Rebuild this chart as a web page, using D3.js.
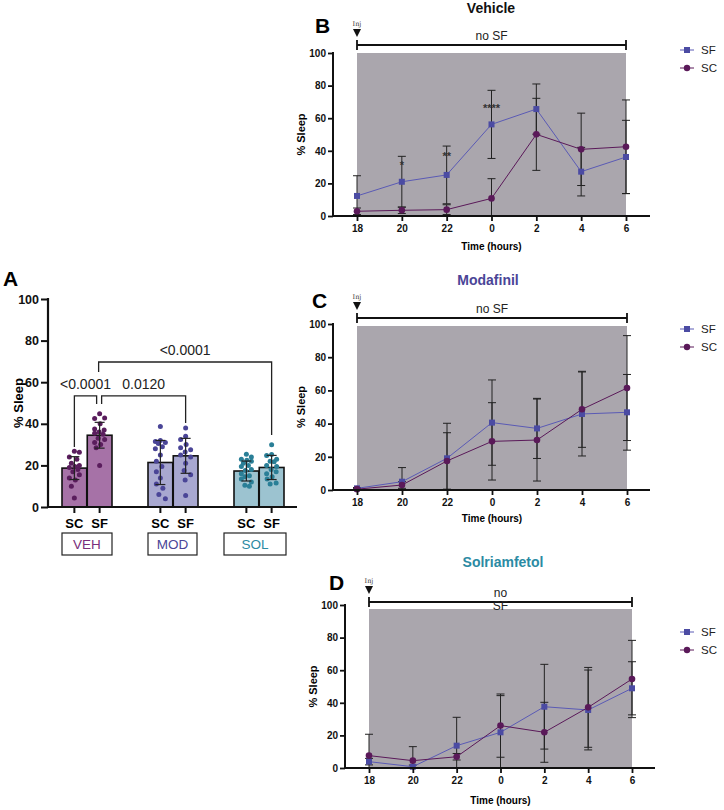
<!DOCTYPE html>
<html>
<head>
<meta charset="utf-8">
<script src="https://cdn.jsdelivr.net/npm/d3@7"></script>
<style>
  body { margin: 0; background: #fff; }
  svg { font-family: Arial, "Liberation Sans", sans-serif; }
</style>
</head>
<body>
<div id="fig"></div>
<script>
// ---------- data: panel A ----------
const groups = ["VEH", "MOD", "SOL"];
const conds = ["SC", "SF"];
const barMean = [18.7, 34.5, 21.4, 24.6, 17.3, 19.0];
const barSD = [5.5, 6.2, 10.6, 8.4, 4.8, 5.8];
const vehSC = [26.8, 26.3, 24, 23, 21, 20, 19.5, 19, 18, 17, 15.5, 14, 13, 10, 4.3];
const vehSF = [44.8, 42.8, 42.5, 40, 37.5, 37, 36, 35.5, 35, 33, 32.5, 31, 30, 28.5, 20];
const modSC = [38.7, 32, 31.5, 31, 30.5, 29, 28, 25, 22, 19.5, 17, 14, 11, 9, 6, 4];
const modSF = [38, 34, 32.5, 30, 28.5, 27.5, 26.5, 25, 24, 21, 17.5, 15.5, 13, 5.5];
const solSC = [25.4, 24, 23, 22.5, 22, 21, 20, 19.5, 18, 17.5, 16, 15, 14.5, 13.5, 12, 10.5, 10];
const solSF = [29.9, 25.2, 24.8, 23, 22, 21.8, 20, 19.5, 18, 17, 16, 14.5, 13.5, 11.5, 11];
const dotsA = [vehSC, vehSF, modSC, modSF, solSC, solSF];
const yTicksA = [0, 20, 40, 60, 80, 100];

// comparisons: [left bar index, right bar index]
const pLabels = ["<0.0001", "0.0120", "<0.0001"];
const pPairs = [[0, 1], [1, 3], [1, 5]];
const pTop = [53.4, 53.4, 69.7];
const pLeftEnd = [28.8, 49.5, 64.9];
const pRightEnd = [49.5, 40.4, 34.6];

// ---------- data: time courses ----------
const hours = ["18", "20", "22", "0", "2", "4", "6"];
const yTicksL = [0, 20, 40, 60, 80, 100];

const vehSFMean = [12.3, 21.0, 25.2, 56.2, 65.6, 27.2, 36.2];
const vehSFSD   = [12.4, 15.6, 17.7, 20.9, 15.4, 14.9, 22.5];
const vehSCMean = [2.9, 3.5, 3.9, 10.8, 50.1, 40.9, 42.5];
const vehSCSD   = [2.0, 2.0, 3.0, 12.1, 22.1, 22.2, 28.7];
const vehStars  = ["", "*", "**", "****", "", "", ""];
const vehStarLevel = [0, 32.5, 38, 67.5, 0, 0, 0];

const modSFMean = [1.0, 5.0, 19.1, 40.6, 37.1, 45.8, 46.8];
const modSFSD   = [0.5, 8.5, 21.1, 25.7, 18.1, 25.3, 22.8];
const modSCMean = [0.5, 3.0, 17.5, 29.3, 30.1, 48.6, 61.4];
const modSCSD   = [0.5, 2.0, 17.0, 23.3, 24.7, 22.9, 31.6];

const solSFMean = [3.9, 0.8, 13.7, 21.9, 37.6, 35.6, 48.9];
const solSFSD   = [2.0, 1.0, 17.4, 22.5, 26.0, 24.5, 16.3];
const solSCMean = [7.6, 4.5, 6.9, 26.0, 21.9, 37.2, 54.6];
const solSCSD   = [13.1, 8.6, 2.0, 19.4, 18.4, 24.5, 23.7];

// ---------- colours ----------
const barFill = ["#a672a7", "#a8a8d0", "#9cc3d0"];
const dotFill = ["#5a1d5d", "#4a4597", "#2a7f97"];
const boxText = ["#7a2d7b", "#4a4597", "#2b8aa3"];
const sfColor = "#4b4ba3", sfLine = "#5a5ab5";
const scColor = "#5a1959";
const shade = "#aaa6ad";

const svg = d3.select("#fig").append("svg")
  .attr("width", 724)
  .attr("height", 810);

// ================= Panel A =================
const gA = svg.append("g");
const yA = d3.scaleLinear().domain([0, 100]).range([507, 299]);
const xGroup = d3.scalePoint().domain(groups).range([87, 259]);
const xCond = d3.scaleBand().domain(conds).range([-25, 25]).paddingInner(0.02);
const barX = i => xGroup(groups[Math.floor(i / 2)]) + xCond(conds[i % 2]);
const barC = i => barX(i) + xCond.bandwidth() / 2;

gA.append("text").attr("x", 3).attr("y", 286)
  .style("font-size", "21px").style("font-weight", "bold").text("A");

gA.selectAll("rect.bar")
  .data(barMean)
  .join("rect")
    .attr("class", "bar")
    .attr("x", (d, i) => barX(i))
    .attr("y", d => yA(d))
    .attr("width", xCond.bandwidth())
    .attr("height", d => yA(0) - yA(d))
    .attr("fill", (d, i) => barFill[Math.floor(i / 2)])
    .attr("stroke", "#111")
    .attr("stroke-width", 1.6);

// simple beeswarm so dots spread across the bar
function swarm(vals, r, maxOff) {
  const placed = [];
  const out = new Array(vals.length);
  const order = vals.map((v, i) => i).sort((a, b) => vals[b] - vals[a]);
  order.forEach((i, n) => {
    const py = yA(vals[i]);
    const sign = n % 2 ? 1 : -1;
    let best = 0, bestGap = -1;
    for (let k = 0; k <= maxOff * 2; k++) {
      const off = sign * (k % 2 ? 1 : -1) * Math.ceil(k / 2) * 0.5;
      let gap = Infinity;
      placed.forEach(p => { gap = Math.min(gap, Math.hypot(p[0] - off, p[1] - py)); });
      if (gap >= 2 * r + 2.6) { best = off; bestGap = gap; break; }
      if (gap > bestGap) { bestGap = gap; best = off; }
    }
    placed.push([best, py]);
    out[i] = best;
  });
  return out;
}

dotsA.forEach((vals, i) => {
  const offs = swarm(vals, 2.4, 10);
  gA.selectAll(null)
    .data(vals)
    .join("circle")
      .attr("cx", (d, j) => barC(i) + offs[j])
      .attr("cy", d => yA(d))
      .attr("r", 2.5)
      .attr("fill", dotFill[Math.floor(i / 2)]);
});

// mean +/- SD
barMean.forEach((m, i) => {
  const c = barC(i), lo = yA(m - barSD[i]), hi = yA(m + barSD[i]);
  const g = gA.append("g").attr("stroke", "#222").attr("stroke-width", 1.2);
  g.append("line").attr("x1", c).attr("x2", c).attr("y1", lo).attr("y2", hi);
  g.append("line").attr("x1", c - 5).attr("x2", c + 5).attr("y1", lo).attr("y2", lo);
  g.append("line").attr("x1", c - 5).attr("x2", c + 5).attr("y1", hi).attr("y2", hi);
});

// axes
const axA = gA.append("g").attr("transform", "translate(48,0)")
  .call(d3.axisLeft(yA).tickValues(yTicksA).tickSize(7).tickPadding(2));
axA.select(".domain").remove();
axA.selectAll(".tick line").attr("stroke", "#111").attr("stroke-width", 2);
axA.selectAll("text").style("font-size", "12.5px").style("font-weight", "bold").attr("fill", "#111");
gA.append("line").attr("x1", 48).attr("x2", 48).attr("y1", yA(100) - 1).attr("y2", yA(0) + 1)
  .attr("stroke", "#111").attr("stroke-width", 2.2);
gA.append("line").attr("x1", 47).attr("x2", 297).attr("y1", yA(0)).attr("y2", yA(0))
  .attr("stroke", "#111").attr("stroke-width", 2.2);

barMean.forEach((m, i) => {
  gA.append("line").attr("x1", barC(i)).attr("x2", barC(i))
    .attr("y1", yA(0)).attr("y2", yA(0) + 6)
    .attr("stroke", "#111").attr("stroke-width", 2);
  gA.append("text").attr("x", barC(i)).attr("y", 528)
    .attr("text-anchor", "middle")
    .style("font-size", "13px").style("font-weight", "bold")
    .text(conds[i % 2]);
});

gA.append("text")
  .attr("transform", "translate(23,403) rotate(-90)")
  .attr("text-anchor", "middle")
  .style("font-size", "13px").style("font-weight", "bold")
  .text("% Sleep");

// group boxes
const boxSpan = [[62, 112], [148, 197], [224, 286]];
groups.forEach((g, k) => {
  gA.append("rect")
    .attr("x", boxSpan[k][0]).attr("y", 533)
    .attr("width", boxSpan[k][1] - boxSpan[k][0]).attr("height", 22)
    .attr("fill", "#fff").attr("stroke", "#222").attr("stroke-width", 1.2);
  gA.append("text")
    .attr("x", (boxSpan[k][0] + boxSpan[k][1]) / 2).attr("y", 549)
    .attr("text-anchor", "middle")
    .style("font-size", "13.5px")
    .attr("fill", boxText[k])
    .text(g);
});

// significance brackets
const legShift = [[0, -3], [2, 0], [-1, 0]];
pPairs.forEach((p, k) => {
  const xl = barC(p[0]) + legShift[k][0], xr = barC(p[1]) + legShift[k][1];
  const yt = yA(pTop[k]);
  gA.append("path")
    .attr("d", `M${xl},${yA(pLeftEnd[k])}V${yt}H${xr}V${yA(pRightEnd[k])}`)
    .attr("fill", "none").attr("stroke", "#222").attr("stroke-width", 1.3);
  gA.append("text")
    .attr("x", (xl + xr) / 2).attr("y", yt - 7)
    .attr("text-anchor", "middle")
    .style("font-size", "14px")
    .attr("fill", "#222")
    .text(pLabels[k]);
});

// ================= Panels B, C, D =================
function timePanel(cfg) {
  const g = svg.append("g");
  const x = d3.scalePoint().domain(hours).range([cfg.x18, cfg.x6]);
  const y = d3.scaleLinear().domain([0, 100]).range([cfg.y0, cfg.y100]);

  // letter and title
  g.append("text").attr("x", cfg.letterX).attr("y", cfg.letterY)
    .style("font-size", "21px").style("font-weight", "bold").text(cfg.letter);
  g.append("text").attr("x", cfg.titleX).attr("y", cfg.titleY)
    .attr("text-anchor", "middle")
    .style("font-size", "14px").style("font-weight", "bold")
    .attr("fill", cfg.titleColor).text(cfg.title);

  // shaded window
  g.append("rect")
    .attr("x", x("18")).attr("y", cfg.shadeTop)
    .attr("width", x("6") - x("18")).attr("height", cfg.y0 - cfg.shadeTop)
    .attr("fill", shade);

  // injection marker and "no SF" bar
  const xb = x("18"), yb = cfg.barY;
  g.append("text").attr("x", xb).attr("y", yb - 19)
    .attr("text-anchor", "middle")
    .style("font-family", "'DejaVu Serif', serif").style("font-size", "6.5px")
    .attr("fill", "#333").text("Inj");
  g.append("path")
    .attr("d", `M${xb - 4},${yb - 16}L${xb + 4},${yb - 16}L${xb},${yb - 8}Z`)
    .attr("fill", "#111");
  g.append("path")
    .attr("d", `M${xb},${yb - 5}V${yb + 5}M${xb},${yb}H${x("6")}M${x("6")},${yb - 5}V${yb + 5}`)
    .attr("fill", "none").attr("stroke", "#111").attr("stroke-width", 1.8);
  cfg.barText.forEach((t, k) => {
    g.append("text")
      .attr("x", (x("18") + x("6")) / 2).attr("y", yb - 5 + k * 13)
      .attr("text-anchor", "middle")
      .style("font-size", "12px").attr("fill", "#222").text(t);
  });

  // error bars
  const series = [
    { mean: cfg.scMean, sd: cfg.scSD },
    { mean: cfg.sfMean, sd: cfg.sfSD }
  ];
  series.forEach(s => {
    s.mean.forEach((m, i) => {
      const cx = x(hours[i]);
      const lo = Math.max(0, m - s.sd[i]), hi = m + s.sd[i];
      const e = g.append("g").attr("stroke", "#222").attr("stroke-width", 1);
      e.append("line").attr("x1", cx).attr("x2", cx).attr("y1", y(lo)).attr("y2", y(hi));
      e.append("line").attr("x1", cx - 4).attr("x2", cx + 4).attr("y1", y(hi)).attr("y2", y(hi));
      if (lo > 0) e.append("line").attr("x1", cx - 4).attr("x2", cx + 4).attr("y1", y(lo)).attr("y2", y(lo));
    });
  });

  const line = d3.line().x((d, i) => x(hours[i])).y(d => y(d));
  g.append("path").datum(cfg.sfMean).attr("d", line)
    .attr("fill", "none").attr("stroke", sfLine).attr("stroke-width", 1);
  g.append("path").datum(cfg.scMean).attr("d", line)
    .attr("fill", "none").attr("stroke", scColor).attr("stroke-width", 1);

  g.selectAll("rect.sf")
    .data(cfg.sfMean)
    .join("rect")
      .attr("class", "sf")
      .attr("x", (d, i) => x(hours[i]) - 3)
      .attr("y", d => y(d) - 3)
      .attr("width", 6).attr("height", 6)
      .attr("fill", sfColor);
  g.selectAll("circle.sc")
    .data(cfg.scMean)
    .join("circle")
      .attr("class", "sc")
      .attr("cx", (d, i) => x(hours[i]))
      .attr("cy", d => y(d))
      .attr("r", 3.3)
      .attr("fill", scColor);

  if (cfg.stars) {
    cfg.stars.forEach((s, i) => {
      if (!s) return;
      g.append("text").attr("x", x(hours[i])).attr("y", y(cfg.starLevel[i]) + 6)
        .attr("text-anchor", "middle")
        .style("font-size", "11px").style("font-weight", "bold")
        .attr("fill", "#333").text(s);
    });
  }

  // axes
  const ay = g.append("g").attr("transform", `translate(${cfg.axisX},0)`)
    .call(d3.axisLeft(y).tickValues(yTicksL).tickSize(5).tickPadding(2));
  ay.select(".domain").remove();
  ay.selectAll(".tick line").attr("stroke", "#111").attr("stroke-width", 1.8);
  ay.selectAll("text").style("font-size", "10px").style("font-weight", "bold").attr("fill", "#111");
  g.append("line").attr("x1", cfg.axisX).attr("x2", cfg.axisX)
    .attr("y1", y(100) - 1).attr("y2", cfg.y0 + 1)
    .attr("stroke", "#111").attr("stroke-width", 2);

  const ax = g.append("g").attr("transform", `translate(0,${cfg.y0})`)
    .call(d3.axisBottom(x).tickSize(5).tickPadding(4));
  ax.select(".domain").remove();
  ax.selectAll(".tick line").attr("stroke", "#111").attr("stroke-width", 1.8);
  ax.selectAll("text").style("font-size", "10px").style("font-weight", "bold").attr("fill", "#111");
  g.append("line").attr("x1", cfg.axisX - 1).attr("x2", cfg.axisEnd)
    .attr("y1", cfg.y0).attr("y2", cfg.y0)
    .attr("stroke", "#111").attr("stroke-width", 2);

  g.append("text")
    .attr("transform", `translate(${cfg.ylabX},${(cfg.y0 + y(100)) / 2}) rotate(-90)`)
    .attr("text-anchor", "middle")
    .style("font-size", "11px").style("font-weight", "bold")
    .text("% Sleep");
  g.append("text")
    .attr("x", (x("18") + x("6")) / 2).attr("y", cfg.timeY)
    .attr("text-anchor", "middle")
    .style("font-size", "10px").style("font-weight", "bold")
    .text("Time (hours)");

  // legend
  const lg = g.append("g").attr("transform", `translate(680,${cfg.legY})`);
  lg.append("line").attr("x1", 0).attr("x2", 14).attr("y1", 0).attr("y2", 0)
    .attr("stroke", sfLine).attr("stroke-width", 1);
  lg.append("rect").attr("x", 4).attr("y", -3).attr("width", 6).attr("height", 6).attr("fill", sfColor);
  lg.append("text").attr("x", 21).attr("y", 4).style("font-size", "11.5px").attr("fill", "#222").text("SF");
  lg.append("line").attr("x1", 0).attr("x2", 14).attr("y1", 18).attr("y2", 18)
    .attr("stroke", scColor).attr("stroke-width", 1);
  lg.append("circle").attr("cx", 7).attr("cy", 18).attr("r", 3.2).attr("fill", scColor);
  lg.append("text").attr("x", 21).attr("y", 22).style("font-size", "11.5px").attr("fill", "#222").text("SC");
}

timePanel({
  letter: "B", letterX: 315, letterY: 33,
  title: "Vehicle", titleX: 491, titleY: 13, titleColor: "#111",
  x18: 357, x6: 626, axisX: 333, axisEnd: 650, y0: 216, y100: 53,
  shadeTop: 53, barY: 45, barText: ["no SF"],
  ylabX: 305, timeY: 250, legY: 50,
  sfMean: vehSFMean, sfSD: vehSFSD, scMean: vehSCMean, scSD: vehSCSD,
  stars: vehStars, starLevel: vehStarLevel
});

timePanel({
  letter: "C", letterX: 312, letterY: 308,
  title: "Modafinil", titleX: 488, titleY: 285, titleColor: "#4a4597",
  x18: 357, x6: 627, axisX: 333, axisEnd: 650, y0: 490, y100: 324,
  shadeTop: 326, barY: 318, barText: ["no SF"],
  ylabX: 305, timeY: 522, legY: 329,
  sfMean: modSFMean, sfSD: modSFSD, scMean: modSCMean, scSD: modSCSD
});

timePanel({
  letter: "D", letterX: 329, letterY: 590,
  title: "Solriamfetol", titleX: 503, titleY: 567, titleColor: "#2b8aa3",
  x18: 369, x6: 632, axisX: 345, axisEnd: 655, y0: 768, y100: 605,
  shadeTop: 609, barY: 602, barText: ["no", "SF"],
  ylabX: 317, timeY: 804, legY: 632,
  sfMean: solSFMean, sfSD: solSFSD, scMean: solSCMean, scSD: solSCSD
});
</script>
</body>
</html>
